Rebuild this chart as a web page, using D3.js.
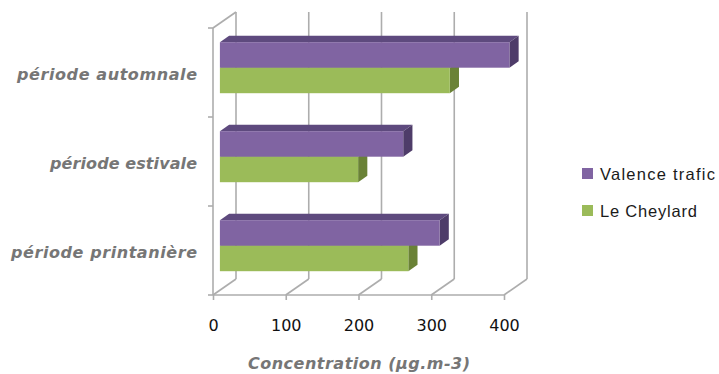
<!DOCTYPE html>
<html>
<head>
<meta charset="utf-8">
<script src="https://cdn.jsdelivr.net/npm/d3@7"></script>
<style>
  html, body { margin: 0; padding: 0; background: #fff; }
  svg { display: block; }
</style>
</head>
<body>
<svg id="chart" width="719" height="374"></svg>
<script>
// Categories, listed top to bottom
const categories = ["période automnale", "période estivale", "période printanière"];
// Series
const seriesNames = ["Valence trafic", "Le Cheylard"];
const valenceTrafic = [398, 252, 302];
const leCheylard = [316, 190, 259];
// Value axis
const tickValues = [0, 100, 200, 300, 400];
const axisTitle = "Concentration (µg.m-3)";

const colors = {
  "Valence trafic": { front: "#8064A2", top: "#5E4A7E", side: "#4E3C69" },
  "Le Cheylard":    { front: "#9BBB59", top: "#7E9A45", side: "#6A8236" }
};

const svg = d3.select("#chart");

// Front plane scales
const x = d3.scaleLinear().domain([0, 400]).range([213, 504]);
const y = d3.scaleBand().domain(categories).range([28, 295]).paddingInner(0).paddingOuter(0);
const ySeries = d3.scaleBand().domain(seriesNames).range([0, y.bandwidth()]).paddingInner(0).paddingOuter(0.745);

// Oblique depth projection: t = 0 front plane, t = 1 back wall
const DEPTH = [23, -16];
const proj = (px, py, t) => [px + DEPTH[0] * t, py + DEPTH[1] * t];

const gridColor = "#ADADAD";
const grid = svg.append("g").attr("fill", "none").attr("stroke", gridColor).attr("stroke-width", 1.6);

// Back wall gridlines and floor diagonals
tickValues.forEach(v => {
  const [bx, btop] = proj(x(v), 28, 1);
  const [, bbot] = proj(x(v), 295, 1);
  grid.append("line").attr("x1", bx).attr("y1", btop).attr("x2", bx).attr("y2", bbot);
  grid.append("line").attr("x1", x(v)).attr("y1", 295).attr("x2", bx).attr("y2", bbot);
});

// Left wall top edge
{
  const [bx, by] = proj(x(0), 28, 1);
  grid.append("line").attr("x1", x(0)).attr("y1", 28).attr("x2", bx).attr("y2", by);
}

// Front value axis and category axis
grid.append("line").attr("x1", x(0)).attr("y1", 295).attr("x2", x(400)).attr("y2", 295);
grid.append("line").attr("x1", x(0)).attr("y1", 28).attr("x2", x(0)).attr("y2", 295);

const xAxis = d3.axisBottom(x).tickValues(tickValues).tickSize(5).tickPadding(20);
const gx = svg.append("g").attr("transform", "translate(0,295)").call(xAxis);
gx.select(".domain").remove();
gx.selectAll(".tick line").attr("stroke", gridColor).attr("stroke-width", 1.6);
gx.selectAll(".tick text")
  .attr("font-family", "DejaVu Sans, Verdana, sans-serif")
  .attr("font-size", 16)
  .attr("fill", "#111");

// Category boundary ticks on the left axis
const boundaries = categories.map(c => y(c)).concat([y.range()[1]]);
grid.selectAll(".ctick").data(boundaries).join("line")
  .attr("x1", x(0) - 5).attr("x2", x(0)).attr("y1", d => d).attr("y2", d => d);

// Category labels
svg.append("g").selectAll("text").data(categories).join("text")
  .attr("x", 197)
  .attr("y", d => y(d) + y.bandwidth() / 2 + 7)
  .attr("text-anchor", "end")
  .attr("font-family", "DejaVu Sans, Verdana, sans-serif")
  .attr("font-size", 16)
  .attr("font-weight", "bold")
  .attr("font-style", "italic")
  .attr("fill", "#767676")
  .attr("textLength", (d, i) => [180, 147, 186][i])
  .attr("lengthAdjust", "spacing")
  .text(d => d);

// 3D bars: front face plus top and right side faces
const T0 = 0.3, T1 = 0.7;
const bars = svg.append("g");
const drawOrder = ["Le Cheylard", "Valence trafic"];
const valuesOf = { "Valence trafic": valenceTrafic, "Le Cheylard": leCheylard };

categories.forEach((cat, ci) => {
  drawOrder.forEach(s => {
    const v = valuesOf[s][ci];
    const top = y(cat) + ySeries(s);
    const bot = top + ySeries.bandwidth();
    const [fx0, fy0] = proj(x(0), top, T0);
    const [fx1, fy1] = proj(x(v), bot, T0);
    const [bx0, by0] = proj(x(0), top, T1);
    const [bx1, by1] = proj(x(v), bot, T1);
    const c = colors[s];
    // top face
    bars.append("path")
      .attr("d", `M${fx0},${fy0}L${fx1},${fy0}L${bx1},${by0}L${bx0},${by0}Z`)
      .attr("fill", c.top);
    // right side face
    bars.append("path")
      .attr("d", `M${fx1},${fy0}L${bx1},${by0}L${bx1},${by1}L${fx1},${fy1}Z`)
      .attr("fill", c.side);
    // front face
    bars.append("rect")
      .attr("x", fx0).attr("y", fy0)
      .attr("width", fx1 - fx0).attr("height", fy1 - fy0)
      .attr("fill", c.front);
  });
});

// Value axis title
svg.append("text")
  .attr("x", 359).attr("y", 369)
  .attr("text-anchor", "middle")
  .attr("font-family", "DejaVu Sans, Verdana, sans-serif")
  .attr("font-size", 16)
  .attr("font-weight", "bold")
  .attr("font-style", "italic")
  .attr("fill", "#767676")
  .attr("textLength", 222)
  .attr("lengthAdjust", "spacing")
  .text(axisTitle);

// Legend
const legend = svg.append("g");
const legendY = [168, 205];
const legendW = [115, 97];
seriesNames.forEach((s, i) => {
  legend.append("rect")
    .attr("x", 582).attr("y", legendY[i])
    .attr("width", 11).attr("height", 11)
    .attr("fill", colors[s].front);
  legend.append("text")
    .attr("x", 600).attr("y", legendY[i] + 12)
    .attr("font-family", "Liberation Sans, Arial, sans-serif")
    .attr("font-size", 16.5)
    .attr("fill", "#1a1a1a")
    .attr("textLength", legendW[i])
    .attr("lengthAdjust", "spacing")
    .text(s);
});
</script>
</body>
</html>
